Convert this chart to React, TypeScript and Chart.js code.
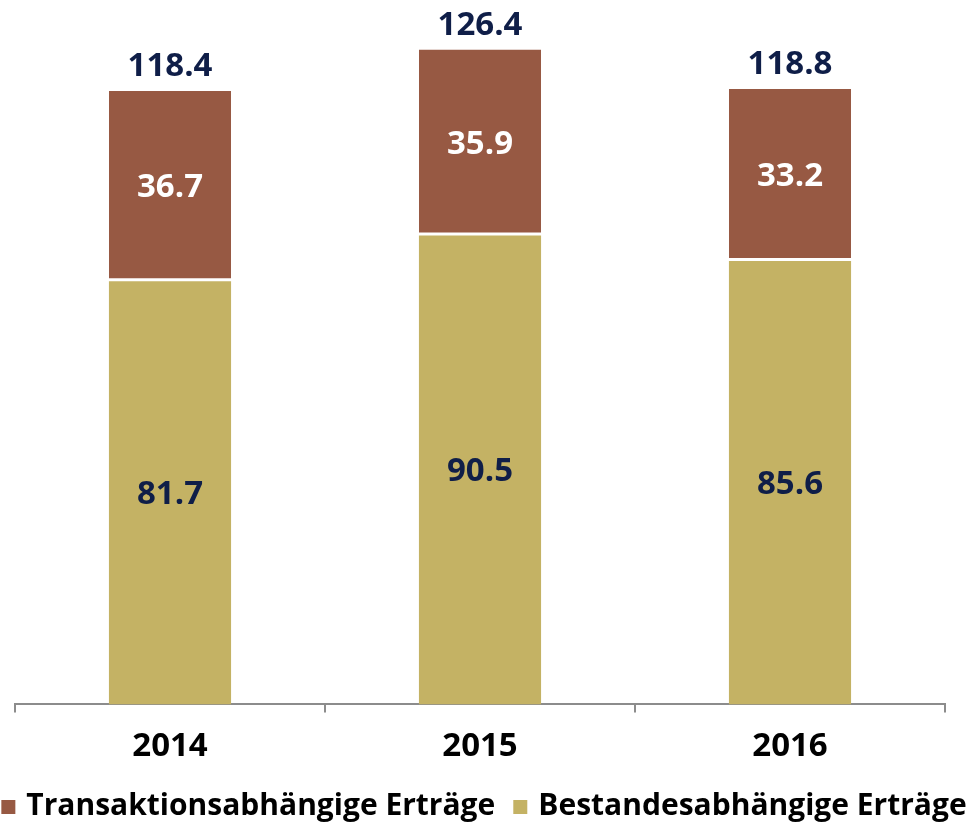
import React, { useEffect, useRef } from "react";
import { Chart, registerables } from "chart.js";

Chart.register(...registerables);

const categories = ["2014", "2015", "2016"];
const bestandValues = [81.7, 90.5, 85.6];
const transaktionValues = [36.7, 35.9, 33.2];
const totalValues = [118.4, 126.4, 118.8];
const seriesNames = ["Bestandesabhängige Erträge", "Transaktionsabhängige Erträge"];

const GOLD = "#C4B264";
const BROWN = "#975943";
const NAVY = "#0F1E48";
const FONT = "'Open Sans', sans-serif";

const labelPlugin = {
  id: "valueLabels",
  afterDatasetsDraw(chart: any) {
    const ctx = chart.ctx;
    ctx.save();
    ctx.textAlign = "center";
    ctx.textBaseline = "middle";
    ctx.font = `bold 33px ${FONT}`;
    const colors = [NAVY, "#FFFFFF"];
    chart.data.datasets.forEach((ds: any, di: number) => {
      const meta = chart.getDatasetMeta(di);
      meta.data.forEach((el: any, i: number) => {
        const v = ds.data[i];
        ctx.fillStyle = colors[di];
        ctx.fillText(v.toFixed(1), el.x, (el.y + el.base) / 2 + 2);
      });
    });
    const topMeta = chart.getDatasetMeta(1);
    topMeta.data.forEach((el: any, i: number) => {
      ctx.fillStyle = NAVY;
      ctx.fillText(totalValues[i].toFixed(1), el.x, el.y - 24);
    });
    ctx.restore();
  },
};

const legendPlugin = {
  id: "customLegend",
  afterDraw(chart: any) {
    const ctx = chart.ctx;
    ctx.save();
    ctx.font = `bold 30px ${FONT}`;
    ctx.textBaseline = "middle";
    ctx.textAlign = "left";
    const items = [1, 0].map((di) => ({
      text: chart.data.datasets[di].label,
      color: chart.data.datasets[di].backgroundColor,
    }));
    const box = 14;
    const gap = 11;
    const itemGap = 18;
    const widths = items.map((it) => box + gap + ctx.measureText(it.text).width);
    const total = widths.reduce((a, b) => a + b, 0) + itemGap * (items.length - 1);
    let x = 484 - total / 2;
    const cy = 806;
    items.forEach((it, i) => {
      ctx.fillStyle = it.color;
      ctx.fillRect(x, cy - box / 2 + 1, box, box);
      ctx.fillStyle = "#000";
      ctx.fillText(it.text, x + box + gap, cy);
      x += widths[i] + itemGap;
    });
    ctx.restore();
  },
};

export default function App() {
  const ref = useRef<HTMLCanvasElement | null>(null);
  useEffect(() => {
    if (!ref.current) return;
    const chart = new Chart(ref.current, {
      type: "bar",
      data: {
        labels: categories,
        datasets: [
          {
            label: seriesNames[0],
            data: bestandValues,
            backgroundColor: GOLD,
            borderWidth: 0,
            categoryPercentage: 1,
            barPercentage: 0.394,
          },
          {
            label: seriesNames[1],
            data: transaktionValues,
            backgroundColor: BROWN,
            borderColor: "#FFFFFF",
            borderWidth: { top: 0, left: 0, right: 0, bottom: 3 },
            borderSkipped: false,
            categoryPercentage: 1,
            barPercentage: 0.394,
          },
        ],
      },
      options: {
        animation: false,
        responsive: false,
        maintainAspectRatio: false,
        layout: { padding: { left: 15, right: 31, top: 5, bottom: 49 } },
        plugins: {
          legend: { display: false },
          tooltip: { enabled: false },
        },
        scales: {
          x: {
            stacked: true,
            grid: {
              drawOnChartArea: false,
              drawTicks: true,
              tickLength: 8,
              color: "#8C8C8C",
              lineWidth: 2,
            },
            border: { display: true, color: "#8C8C8C", width: 2 },
            ticks: {
              color: "#000",
              padding: 14,
              font: { family: FONT, size: 33, weight: "bold" },
            },
          },
          y: {
            stacked: true,
            display: false,
            min: 0,
            max: 135,
          },
        },
      },
      plugins: [labelPlugin, legendPlugin],
    });
    return () => chart.destroy();
  }, []);
  return (
    <div style={{ position: "fixed", left: 0, top: 0, width: 976, height: 829, background: "#fff" }}>
      <canvas ref={ref} width={976} height={829} style={{ width: 976, height: 829, display: "block" }} />
    </div>
  );
}
